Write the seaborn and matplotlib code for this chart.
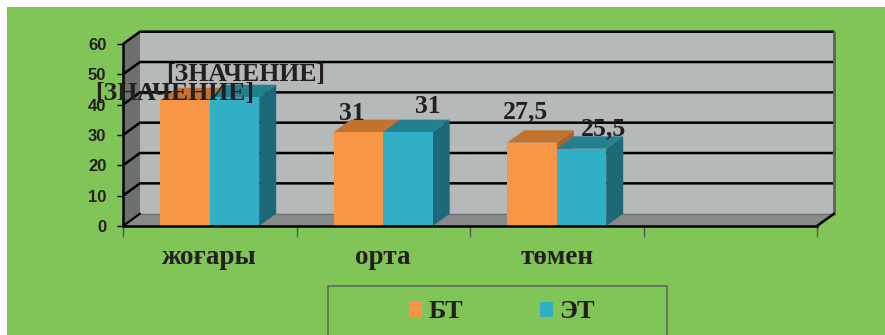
import matplotlib
matplotlib.use("Agg")
import matplotlib.pyplot as plt
from matplotlib.patches import Polygon, Rectangle
import pandas as pd
import seaborn as sns

# ---- data ----
levels = ["жоғары", "орта", "төмен"]
groups = ["БТ", "ЭТ"]
bt_values = [41.5, 31, 27.5]
et_values = [42.5, 31, 25.5]
bt_labels = ["[ЗНАЧЕНИЕ]", "31", "27,5"]
et_labels = ["[ЗНАЧЕНИЕ]", "31", "25,5"]
y_ticks = [0, 10, 20, 30, 40, 50, 60]

# ---- style ----
GREEN = "#81c457"
WALL = "#b6b9ba"
SIDE_WALL = "#6e6f71"
FLOOR = "#888989"
INK = "#231f20"
FRONT = ["#f79646", "#31afc7"]
TOP = ["#c3722f", "#23808f"]
SIDE = ["#b0622a", "#1e6977"]
SERIF = "Liberation Serif"

sns.set_theme(style="white")
plt.rcParams["font.family"] = ["Liberation Serif", "DejaVu Serif"]

W, H = 885, 335
fig = plt.figure(figsize=(W / 100, H / 100), dpi=100)
fig.patch.set_facecolor("white")
fig.patches.append(Rectangle((7 / W, 0), 1 - 7 / W, (H - 7) / H, transform=fig.transFigure,
                             facecolor=GREEN, edgecolor="none", zorder=-5))

ax = fig.add_axes([123 / W, (H - 226) / H, (817 - 123) / W, (226 - 44) / H])
ax.set_facecolor("none")

df = pd.DataFrame({
    "level": levels * 2,
    "group": [groups[0]] * len(levels) + [groups[1]] * len(levels),
    "value": bt_values + et_values,
})
sns.barplot(data=df, x="level", y="value", hue="group", hue_order=groups,
            palette=FRONT, saturation=1, width=0.57, linewidth=0, ax=ax)

X0, X1 = -0.5, 3.5
YMAX = 60
DX, DY = 0.098, 4.06   # depth of the 3D box in data units
ax.set_xlim(X0, X1)
ax.set_ylim(0, YMAX)

# back wall, side wall and floor
ax.add_patch(Rectangle((X0 + DX, DY), X1 - X0, YMAX, facecolor=WALL, edgecolor="none",
                       zorder=0.2, clip_on=False))
ax.add_patch(Polygon([(X0, 0), (X0 + DX, DY), (X0 + DX, YMAX + DY), (X0, YMAX)],
                     closed=True, facecolor=SIDE_WALL, edgecolor="none", zorder=0.3, clip_on=False))
ax.add_patch(Polygon([(X0, 0), (X0 + DX, DY), (X1 + DX, DY), (X1, 0)],
                     closed=True, facecolor=FLOOR, edgecolor="none", zorder=0.3, clip_on=False))
for v in y_ticks[1:]:
    ax.plot([X0, X0 + DX, X1 + DX], [v, v + DY, v + DY], color="black", lw=1.8,
            zorder=0.5, clip_on=False, solid_capstyle="butt")
ax.plot([X0, X0 + DX], [0, DY], color="black", lw=1.5, zorder=0.5, clip_on=False)
ax.plot([X1 + DX, X1 + DX], [DY, YMAX + DY], color="#5e6060", lw=2, zorder=0.5, clip_on=False)
ax.plot([X1, X1 + DX], [0, DY], color="black", lw=1.8, zorder=0.5, clip_on=False)
ax.plot([X0 + DX, X1 + DX], [DY, DY], color="#707070", lw=0.8, zorder=0.4, clip_on=False)

# extrude each bar into a box
for i, cont in enumerate(ax.containers):
    for bar in cont:
        x, w, h = bar.get_x(), bar.get_width(), bar.get_height()
        bar.set_zorder(2.1 + 0.2 * i)
        ax.add_patch(Polygon([(x + w, 0), (x + w + DX, DY), (x + w + DX, h + DY), (x + w, h)],
                             closed=True, facecolor=SIDE[i], edgecolor="none",
                             zorder=2.0 + 0.2 * i, clip_on=False))
        ax.add_patch(Polygon([(x, h), (x + DX, h + DY), (x + w + DX, h + DY), (x + w, h)],
                             closed=True, facecolor=TOP[i], edgecolor="none",
                             zorder=2.0 + 0.2 * i, clip_on=False))

# value labels
label_offsets = [
    [(-10, 0), (-6.5, 12), (-7, 24.5)],
    [(11.5, 16), (19.5, 19), (22.5, 13.5)],
]
for i, (cont, labels) in enumerate(zip(ax.containers, [bt_labels, et_labels])):
    for j, (bar, text) in enumerate(zip(cont, labels)):
        cx = bar.get_x() + bar.get_width() / 2
        ox, oy = label_offsets[i][j]
        ax.annotate(text, xy=(cx, bar.get_height()), xytext=(ox, oy), textcoords="offset pixels",
                    ha="center", va="baseline", fontsize=18.5, fontweight="bold",
                    family=SERIF, color=INK, zorder=5, annotation_clip=False)

# axes lines and ticks
for side_name in ["top", "right"]:
    ax.spines[side_name].set_visible(False)
for side_name in ["left", "bottom"]:
    ax.spines[side_name].set_color("black")
    ax.spines[side_name].set_linewidth(1.8)
    ax.spines[side_name].set_zorder(4)

ax.set_yticks(y_ticks)
ax.set_yticklabels([str(t) for t in y_ticks], fontsize=12, fontweight="bold",
                   family="Liberation Sans", color=INK)
ax.tick_params(axis="y", left=True, length=4, width=1, color="black", pad=8)

ax.set_xticks(range(len(levels)))
ax.set_xticklabels(levels, fontsize=19.5, fontweight="bold", family=SERIF, color=INK)
ax.set_xticks([X0 + k for k in range(5)], minor=True)
ax.tick_params(axis="x", which="major", length=0, pad=14)
ax.tick_params(axis="x", which="minor", bottom=True, length=8, width=1, color="#555555")
ax.set_xlabel("")
ax.set_ylabel("")

# legend
leg_old = ax.get_legend()
handles = leg_old.legend_handles
texts = [t.get_text() for t in leg_old.texts]
leg_old.remove()
fig.patches.append(Rectangle((328 / W, -0.05), (667 - 328) / W, (H - 286) / H + 0.05,
                             transform=fig.transFigure, facecolor="none",
                             edgecolor="#5f6b5a", lw=1.2, zorder=1))
fig.legend(handles, texts, loc="center", bbox_to_anchor=(502 / W, (H - 312) / H), ncol=2,
           frameon=False, handlelength=0.5, handleheight=0.5, handletextpad=0.25,
           columnspacing=2.9, prop={"family": SERIF, "weight": "bold", "size": 19},
           labelcolor=INK)

fig.savefig("out.png", dpi=100)
